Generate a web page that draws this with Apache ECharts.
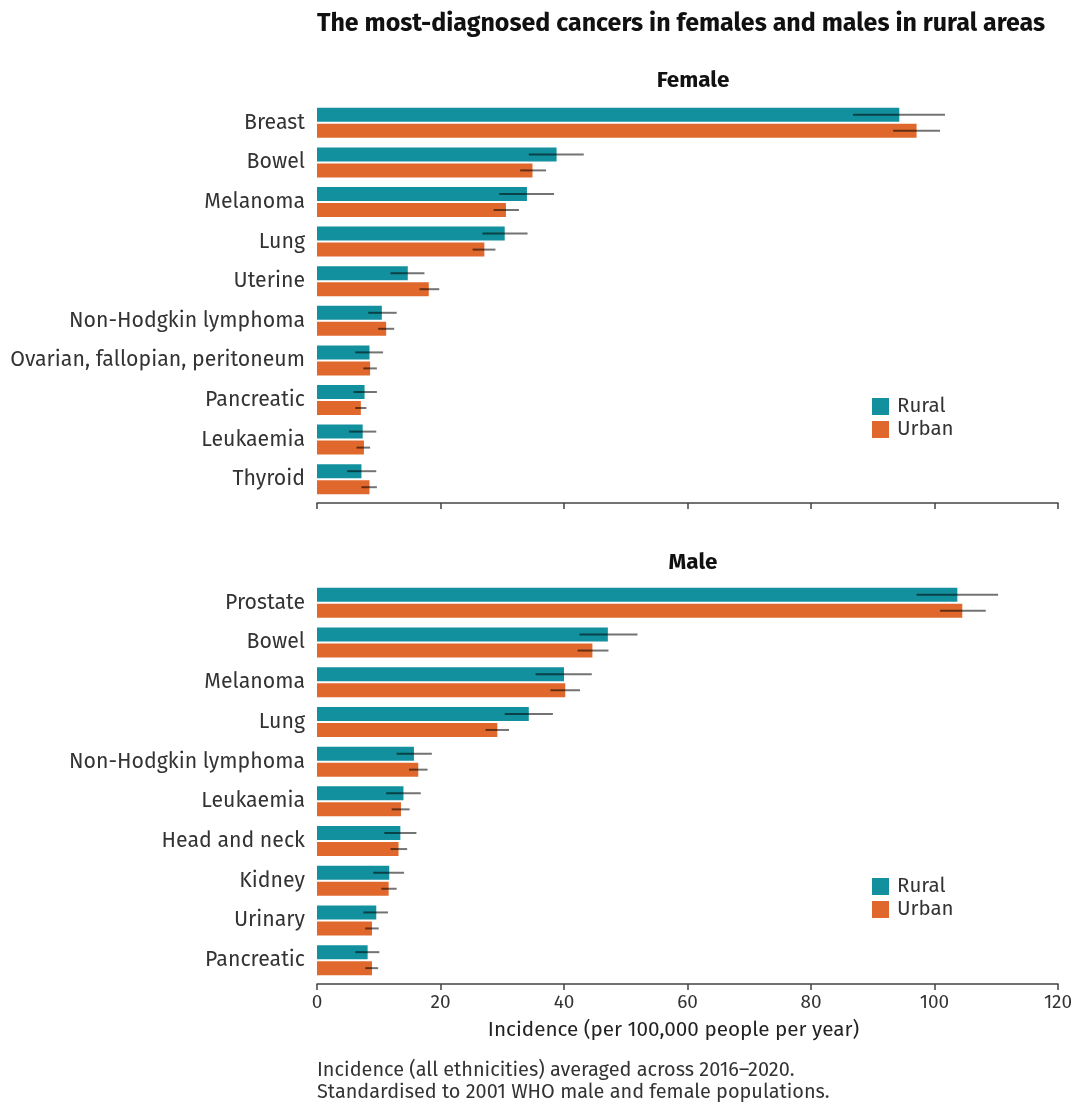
<!DOCTYPE html>
<html>
<head>
<meta charset="utf-8">
<script src="https://cdn.jsdelivr.net/npm/echarts@6/dist/echarts.min.js"></script>
<style>
  html, body { margin: 0; padding: 0; background: #fff; }
  #chart { width: 1078px; height: 1106px; }
</style>
</head>
<body>
<div id="chart"></div>
<script>
// Age-standardised incidence per 100,000 people per year, with 95% intervals
const femaleCategories = ['Breast', 'Bowel', 'Melanoma', 'Lung', 'Uterine', 'Non-Hodgkin lymphoma',
  'Ovarian, fallopian, peritoneum', 'Pancreatic', 'Leukaemia', 'Thyroid'];
const femaleRural   = [94.3, 38.8, 34.0, 30.4, 14.7, 10.5, 8.5, 7.7, 7.4, 7.2];
const femaleRuralLo = [86.8, 34.3, 29.5, 26.8, 11.9, 8.3, 6.2, 5.9, 5.2, 4.9];
const femaleRuralHi = [101.7, 43.2, 38.4, 34.1, 17.4, 12.9, 10.7, 9.7, 9.6, 9.6];
const femaleUrban   = [97.1, 34.9, 30.6, 27.1, 18.1, 11.2, 8.6, 7.1, 7.6, 8.5];
const femaleUrbanLo = [93.3, 32.9, 28.6, 25.2, 16.6, 9.9, 7.5, 6.2, 6.4, 7.2];
const femaleUrbanHi = [100.9, 37.1, 32.7, 28.9, 19.8, 12.5, 9.7, 8.0, 8.6, 9.7];

const maleCategories = ['Prostate', 'Bowel', 'Melanoma', 'Lung', 'Non-Hodgkin lymphoma', 'Leukaemia',
  'Head and neck', 'Kidney', 'Urinary', 'Pancreatic'];
const maleRural   = [103.7, 47.1, 40.0, 34.3, 15.7, 14.0, 13.5, 11.7, 9.6, 8.2];
const maleRuralLo = [97.1, 42.5, 35.4, 30.4, 12.9, 11.2, 10.9, 9.1, 7.5, 6.2];
const maleRuralHi = [110.3, 51.9, 44.5, 38.2, 18.6, 16.8, 16.1, 14.1, 11.5, 10.1];
const maleUrban   = [104.5, 44.6, 40.2, 29.2, 16.4, 13.6, 13.2, 11.6, 8.9, 8.9];
const maleUrbanLo = [100.9, 42.2, 37.8, 27.3, 14.9, 12.1, 11.9, 10.4, 7.8, 7.8];
const maleUrbanHi = [108.3, 47.2, 42.6, 31.1, 17.9, 15.0, 14.6, 12.9, 10.0, 9.9];

const xTicks = { min: 0, max: 120, interval: 20 };

const RURAL = '#12909d';
const URBAN = '#e0682c';
const FONT = '"Fira Sans", "Noto Sans", "Open Sans", sans-serif';
const BAR_W = 14;
const BAR_GAP = 2;

const chart = echarts.init(document.getElementById('chart'));

function errorSeries(name, grid, lo, hi, shift) {
  return {
    type: 'custom',
    name: name + ' interval',
    xAxisIndex: grid, yAxisIndex: grid,
    silent: true, z: 5,
    data: lo.map((v, i) => [v, hi[i], i]),
    encode: { x: [0, 1], y: 2 },
    renderItem(params, api) {
      const a = api.coord([api.value(0), api.value(2)]);
      const b = api.coord([api.value(1), api.value(2)]);
      const y = a[1] + shift;
      return {
        type: 'line',
        shape: { x1: a[0], y1: y, x2: b[0], y2: y },
        style: { stroke: 'rgba(0,0,0,0.55)', lineWidth: 2 }
      };
    }
  };
}

function barSeries(name, grid, data, color) {
  return {
    type: 'bar', name, xAxisIndex: grid, yAxisIndex: grid,
    data, barWidth: BAR_W, barGap: (BAR_GAP / BAR_W * 100) + '%',
    itemStyle: { color }, z: 2
  };
}

const shift = (BAR_W + BAR_GAP) / 2;

const grids = [
  { left: 317, right: 20, top: 103, height: 396 },
  { left: 317, right: 20, top: 583, height: 397 }
];

function legendAt(top) {
  return {
    data: ['Rural', 'Urban'], orient: 'vertical', left: 872, top, padding: 0, icon: 'rect',
    itemWidth: 17, itemHeight: 17, itemGap: 2, selectedMode: false,
    textStyle: { fontSize: 20.5, color: '#333', fontFamily: FONT, padding: [0, 0, 0, 3] }
  };
}

chart.setOption({
  animation: false,
  textStyle: { fontFamily: FONT },
  title: [
    { text: 'The most-diagnosed cancers in females and males in rural areas', left: 676, top: 7,
      textAlign: 'center',
      textStyle: { fontSize: 25, fontWeight: 'bold', color: '#111', fontFamily: FONT } },
    { text: 'Female', left: 688, top: 64, textAlign: 'center',
      textStyle: { fontSize: 22.5, fontWeight: 'bold', color: '#111', fontFamily: FONT } },
    { text: 'Male', left: 688, top: 546, textAlign: 'center',
      textStyle: { fontSize: 22.5, fontWeight: 'bold', color: '#111', fontFamily: FONT } }
  ],
  legend: [legendAt(396), legendAt(876)],
  grid: grids,
  xAxis: [0, 1].map(g => ({
    type: 'value', gridIndex: g, min: xTicks.min, max: xTicks.max, interval: xTicks.interval,
    offset: 4,
    axisLine: { show: true, lineStyle: { color: '#444', width: 1.5 } },
    axisTick: { show: true, length: 6, lineStyle: { color: '#444', width: 1.5 } },
    splitLine: { show: false },
    axisLabel: { show: g === 1, fontSize: 19, color: '#333', margin: 9, fontFamily: FONT },
    name: g === 1 ? 'Incidence (per 100,000 people per year)' : '',
    nameLocation: 'middle', nameGap: 36,
    nameTextStyle: { fontSize: 20.7, color: '#222', fontFamily: FONT, padding: [0, 28, 0, 0] }
  })),
  yAxis: [femaleCategories, maleCategories].map((cats, g) => ({
    type: 'category', gridIndex: g, data: cats, inverse: true,
    axisLine: { show: false }, axisTick: { show: false },
    axisLabel: { fontSize: 21.3, color: '#333', margin: 12, fontFamily: FONT }
  })),
  series: [
    barSeries('Rural', 0, femaleRural, RURAL),
    barSeries('Urban', 0, femaleUrban, URBAN),
    errorSeries('Rural', 0, femaleRuralLo, femaleRuralHi, -shift),
    errorSeries('Urban', 0, femaleUrbanLo, femaleUrbanHi, shift),
    barSeries('Rural', 1, maleRural, RURAL),
    barSeries('Urban', 1, maleUrban, URBAN),
    errorSeries('Rural', 1, maleRuralLo, maleRuralHi, -shift),
    errorSeries('Urban', 1, maleUrbanLo, maleUrbanHi, shift)
  ],
  graphic: [
    { type: 'text', left: 317, top: 1059,
      style: { text: 'Incidence (all ethnicities) averaged across 2016\u20132020.\nStandardised to 2001 WHO male and female populations.',
        fontSize: 19.9, lineHeight: 22, fill: '#333', fontFamily: FONT } }
  ]
});
</script>
</body>
</html>
